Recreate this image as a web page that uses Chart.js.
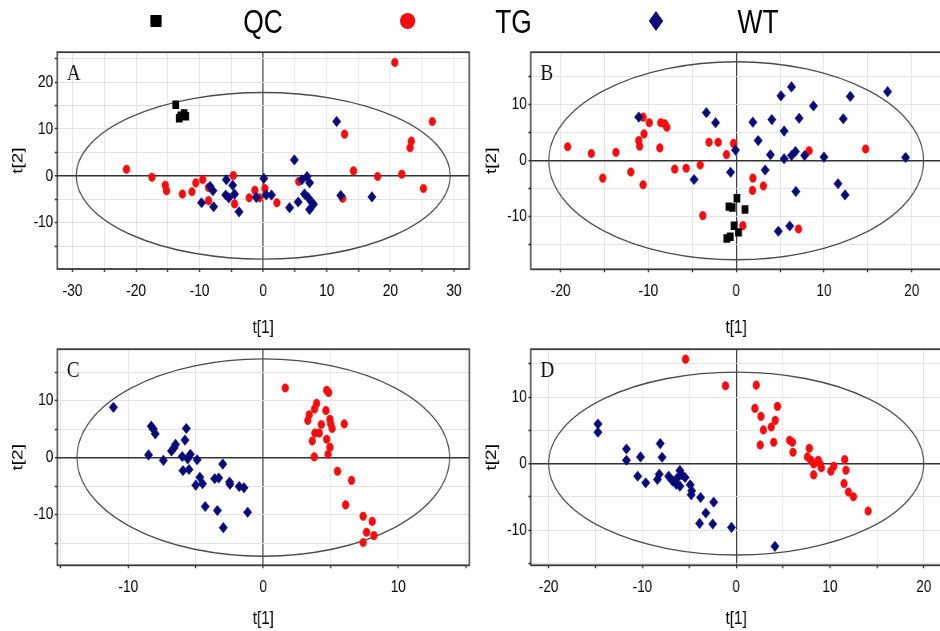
<!DOCTYPE html>
<html>
<head>
<meta charset="utf-8">
<script src="https://cdn.jsdelivr.net/npm/chart.js@4.4.1/dist/chart.umd.min.js"></script>
<style>
  html, body { margin: 0; padding: 0; background: #fff; width: 940px; height: 631px; overflow: hidden; }
  /* the figure is slightly squeezed horizontally, so everything is drawn wider and scaled */
  #stage { position: absolute; left: 0; top: 0; width: 1175px; height: 631px; transform: scaleX(0.8); transform-origin: 0 0; }
  #stage canvas { position: absolute; }
  .lg { position: absolute; font-family: "Liberation Sans", Arial, sans-serif; font-size: 33px; line-height: 44px; top: 0; color: #000; }
  .mk { position: absolute; }
</style>
</head>
<body>
<div id="stage">
  <div class="mk" style="left:188px;top:15px;width:14px;height:12px;background:#000"></div>
  <div class="lg" style="left:304px">QC</div>
  <div class="mk" style="left:500px;top:13px;width:19px;height:16px;background:#f50d0d;border-radius:50%"></div>
  <div class="lg" style="left:619px">TG</div>
  <div class="mk" style="left:811px;top:11px;width:18px;height:20px;background:#0a0a78;clip-path:polygon(50% 0,100% 50%,50% 100%,0 50%)"></div>
  <div class="lg" style="left:922px">WT</div>
</div>
<script>
// ---- data (t[1], t[2]) ----
const qcA = [[-13.75, 15.2], [-12.97, 12.84], [-12.44, 13.3], [-13.2, 12.3], [-12.2, 12.7]];
const tgA = [[20.7, 24.2], [26.6, 11.6], [12.8, 8.9], [23.3, 7.4], [23.1, 6.0], [-21.5, 1.4], [14.2, 1.05],
  [18.0, -0.14], [21.8, 0.35], [25.2, -2.7], [-17.5, -0.3], [-15.4, -2.0], [-15.2, -3.2], [-12.7, -3.9],
  [-11.2, -3.4], [-10.6, -1.5], [-9.5, -0.8], [-8.6, -2.5], [-8.6, -5.3], [-4.7, 0.07], [-4.5, -6.0],
  [-2.2, -4.7], [-1.3, -3.1], [-0.6, -4.7], [0.26, -2.7], [2.15, -5.75], [5.6, -1.2], [12.5, -4.8]];
const wtA = [[11.55, 11.6], [4.9, 3.4], [0.1, -0.56], [6.9, -0.14], [6.1, -0.84], [7.3, -1.5], [-8.35, -2.25],
  [-7.9, -3.2], [-5.8, -0.84], [-4.8, -2.0], [-4.5, -3.9], [-5.9, -4.1], [-9.7, -5.75], [-7.8, -6.6],
  [-3.8, -7.7], [-1.1, -4.6], [0.47, -4.1], [1.3, -4.1], [4.15, -6.8], [5.5, -5.6], [6.5, -3.9], [7.1, -4.7],
  [7.7, -5.75], [7.3, -7.2], [7.9, -6.1], [12.2, -4.2], [17.1, -4.5], [-5.4, -4.7]];

const qcB = [[0.08, -6.7], [-0.83, -8.2], [-0.45, -8.35], [1.0, -8.7], [-0.23, -11.6], [0.27, -12.8],
  [-0.68, -13.6], [-1.06, -13.9]];
const tgB = [[-19.2, 2.5], [-16.5, 1.3], [-13.7, 1.5], [-15.2, -3.1], [-12.0, -2.0], [-10.6, -4.3], [-11.1, 3.6],
  [-11.0, 2.6], [-10.5, 4.8], [-10.6, 7.8], [-9.9, 6.8], [-8.6, 6.8], [-8.15, 6.6], [-7.9, 6.0], [-8.7, 2.3],
  [-7.0, -1.5], [-5.7, -1.35], [-4.1, -0.76], [-3.1, 3.3], [-2.05, 3.3], [-0.3, 3.1], [-1.1, 1.1], [1.9, -3.1],
  [1.86, -5.3], [3.1, -4.5], [-3.8, -9.8], [0.76, -11.6], [7.1, -12.2], [8.3, 1.8], [14.75, 2.1]];
const wtB = [[-11.1, 7.8], [-3.4, 8.6], [-2.35, 6.8], [-0.08, 1.9], [-0.64, -2.06], [-4.8, -3.35], [1.9, 6.9],
  [4.06, 7.35], [5.1, 11.6], [6.3, 13.2], [5.46, 5.3], [7.17, 7.6], [8.8, 9.8], [2.5, 3.6], [3.9, 1.06],
  [3.3, -1.65], [5.46, 0.35], [6.3, 0.94], [6.75, 1.65], [7.8, 0.94], [10.0, 0.65], [12.2, 7.5], [13.0, 11.5],
  [17.25, 12.35], [19.3, 0.59], [11.6, -4.1], [12.4, -6.1], [6.8, -5.5], [4.8, -12.6], [6.1, -11.65]];

const tgC = [[1.63, 12.2], [4.7, 11.8], [4.84, 11.4], [3.95, 9.5], [3.8, 8.5], [3.4, 7.5], [3.3, 6.5], [4.64, 8.25],
  [4.94, 6.7], [5.0, 5.9], [5.1, 5.1], [4.3, 5.8], [6.0, 5.9], [3.83, 4.3], [4.15, 4.3], [3.63, 2.9], [4.7, 3.2],
  [4.94, 1.8], [4.8, 0.58], [3.78, 0.12], [5.5, -2.4], [6.54, -4.0], [6.1, -8.3], [7.4, -10.3], [8.07, -11.2],
  [7.65, -13.1], [8.2, -13.7], [7.4, -14.9]];
const wtC = [[-11.1, 8.8], [-8.3, 5.5], [-8.15, 5.0], [-8.0, 4.15], [-8.5, 0.46], [-7.4, -0.5], [-6.8, 1.15],
  [-6.6, 1.73], [-6.5, 2.3], [-5.7, 5.1], [-5.8, 3.06], [-6.0, 0.17], [-5.4, 0.58], [-5.6, -0.23], [-5.95, -2.3],
  [-5.5, -2.1], [-4.9, -0.4], [-4.7, -3.46], [-5.0, -4.84], [-4.5, -4.6], [-3.6, -3.7], [-3.3, -3.6], [-3.0, -1.15],
  [-2.5, -4.3], [-2.47, -4.7], [-1.78, -5.07], [-1.43, -5.3], [-4.3, -8.6], [-3.4, -9.3], [-1.16, -9.6], [-2.96, -12.3]];

const tgD = [[-5.4, 15.7], [-1.14, 11.7], [2.14, 11.8], [2.0, 8.3], [2.64, 7.1], [2.9, 5.06], [2.56, 2.8], [4.4, 8.6],
  [4.17, 6.5], [3.74, 5.5], [4.0, 3.2], [5.7, 3.5], [6.0, 3.2], [6.05, 1.7], [7.8, 2.3], [7.6, 1.0], [7.98, 0.5],
  [8.26, -0.05], [8.76, 0.5], [8.97, -0.15], [9.08, -0.64], [8.26, -1.7], [10.1, -1.14], [10.4, -0.4], [11.57, 0.6],
  [11.7, -1.0], [11.5, -3.0], [11.97, -4.27], [12.5, -5.0], [14.07, -7.14]];
const wtD = [[-14.74, 5.95], [-14.74, 4.7], [-11.7, 2.2], [-11.7, 0.5], [-10.2, 1.0], [-8.1, 3.0], [-7.9, 0.94],
  [-10.5, -1.9], [-9.65, -2.9], [-8.4, -2.4], [-8.2, -1.6], [-7.2, -1.9], [-6.8, -2.6], [-6.3, -2.2], [-6.0, -1.04],
  [-5.8, -1.7], [-6.0, -3.4], [-6.4, -3.1], [-4.9, -3.2], [-4.74, -4.1], [-4.8, -4.7], [-3.8, -5.1], [-2.4, -5.8],
  [-3.24, -7.44], [-3.9, -9.0], [-2.5, -9.1], [-0.5, -9.6], [4.13, -12.45], [-5.45, -2.1]];

// axis ranges and Hotelling ellipse half-axes per panel
const panelLabels = ["A", "B", "C", "D"];
const xLimits = [[-32.4, 32.4], [-23.4, 23.4], [-15.26, 15.26], [-21.9, 21.9]];
const yLimits = [[-19.9, 26.4], [-19.4, 19.4], [-18.9, 19.0], [-15.3, 17.2]];
const ellipseRx = [29.4, 21.35, 13.8, 20.0];
const ellipseRy = [17.8, 17.7, 17.3, 13.75];

// ---- layout (unsqueezed px) ----
const panels = [
  { qc: qcA, tg: tgA, wt: wtA, frame: [71.5, 49, 586.5, 269], box: [0, 40, 595, 300] },
  { qc: qcB, tg: tgB, wt: wtB, frame: [663.5, 49.3, 1177, 269.3], box: [592, 40, 593, 300] },
  { qc: [], tg: tgC, wt: wtC, frame: [71.6, 346, 586.6, 565.3], box: [0, 337, 595, 294] },
  { qc: [], tg: tgD, wt: wtD, frame: [663.5, 346.7, 1177, 565.3], box: [592, 337, 593, 294] },
];

const FONT = '"Liberation Sans", Arial, sans-serif';
const toPts = (arr) => arr.map(([x, y]) => ({ x, y }));
const tickLabel = (v) => (Math.abs(v % 10) < 1e-6 ? String(Math.round(v)) : "");
const gridColor = (c) => (c.tick && Math.abs(c.tick.value) < 1e-9 ? "#333" : "#e3e3e3");
const gridWidth = (c) => (c.tick && Math.abs(c.tick.value) < 1e-9 ? 1.4 : 1);

// ellipse, frame and panel letter
const pcaFrame = {
  id: "pcaFrame",
  beforeDatasetsDraw(chart, args, opts) {
    const { ctx, chartArea: a } = chart;
    const xs = chart.scales.x, ys = chart.scales.y;
    const cx = xs.getPixelForValue(0), cy = ys.getPixelForValue(0);
    const rx = Math.abs(xs.getPixelForValue(opts.rx) - cx);
    const ry = Math.abs(ys.getPixelForValue(opts.ry) - cy);
    ctx.save();
    ctx.beginPath();
    ctx.rect(a.left, a.top, a.width, a.height);
    ctx.clip();
    ctx.beginPath();
    ctx.ellipse(cx, cy, rx, ry, 0, 0, Math.PI * 2);
    ctx.strokeStyle = "#4a4a4a";
    ctx.lineWidth = 1.4;
    ctx.stroke();
    ctx.restore();

    ctx.save();
    ctx.strokeStyle = "#3a3a3a";
    ctx.lineWidth = 1.8;
    ctx.strokeRect(a.left, a.top, a.width, a.height);
    ctx.font = '24px "Liberation Serif", "Times New Roman", serif';
    ctx.fillStyle = "#111";
    ctx.textBaseline = "alphabetic";
    ctx.fillText(opts.label, a.left + 12, a.top + 28);
    ctx.restore();
  },
};

const stage = document.getElementById("stage");

panels.forEach((p, i) => {
  const [fl, ft, fr, fb] = p.frame;
  const [bl, bt, bw, bh] = p.box;
  const cv = document.createElement("canvas");
  cv.width = bw;
  cv.height = bh;
  cv.style.left = bl + "px";
  cv.style.top = bt + "px";
  cv.style.width = bw + "px";
  cv.style.height = bh + "px";
  stage.appendChild(cv);

  const yAxisW = fl - bl;
  const xAxisH = bt + bh - fb;

  new Chart(cv.getContext("2d"), {
    type: "scatter",
    data: {
      datasets: [
        {
          label: "QC",
          data: toPts(p.qc),
          pointStyle: "rect",
          pointRadius: 6,
          backgroundColor: "#000",
          borderColor: "#000",
          borderWidth: 0,
          order: 0,
        },
        {
          label: "WT",
          data: toPts(p.wt),
          pointStyle: "rectRot",
          pointRadius: 5.3,
          backgroundColor: "#0a0a78",
          borderColor: "#0a0a78",
          borderWidth: 0.5,
          order: 1,
        },
        {
          label: "TG",
          data: toPts(p.tg),
          pointStyle: "circle",
          pointRadius: 4.3,
          backgroundColor: "#f50d0d",
          borderColor: "#f50d0d",
          borderWidth: 0.5,
          order: 2,
        },
      ],
    },
    options: {
      responsive: false,
      animation: false,
      devicePixelRatio: 1,
      events: [],
      layout: { padding: { top: ft - bt, right: bl + bw - fr, left: 0, bottom: 0 } },
      plugins: {
        legend: { display: false },
        tooltip: { enabled: false },
        pcaFrame: { rx: ellipseRx[i], ry: ellipseRy[i], label: panelLabels[i] },
      },
      scales: {
        x: {
          type: "linear",
          min: xLimits[i][0],
          max: xLimits[i][1],
          border: { display: false },
          grid: { color: gridColor, lineWidth: gridWidth, tickLength: 3, tickColor: "#333", tickWidth: 1.6 },
          ticks: {
            stepSize: 5,
            includeBounds: false,
            autoSkip: false,
            maxRotation: 0,
            padding: 9,
            color: "#000",
            font: { family: FONT, size: 17 },
            callback: tickLabel,
          },
          title: { display: true, text: "t[1]", color: "#000", font: { family: FONT, size: 19 }, padding: { top: 0, bottom: 1 } },
          afterFit: (s) => { s.height = xAxisH; },
        },
        y: {
          type: "linear",
          min: yLimits[i][0],
          max: yLimits[i][1],
          border: { display: false },
          grid: { color: gridColor, lineWidth: gridWidth, tickLength: 3, tickColor: "#333", tickWidth: 1.6 },
          ticks: {
            stepSize: 5,
            includeBounds: false,
            autoSkip: false,
            padding: 2,
            color: "#000",
            font: { family: FONT, size: 17 },
            callback: tickLabel,
          },
          title: { display: true, text: "t[2]", color: "#000", font: { family: FONT, size: 19 }, padding: { top: 11.7, bottom: 0 } },
          afterFit: (s) => { s.width = yAxisW; },
        },
      },
    },
    plugins: [pcaFrame],
  });
});
</script>
</body>
</html>
